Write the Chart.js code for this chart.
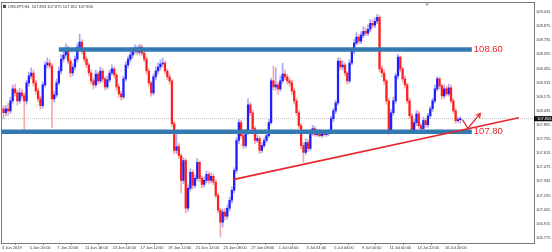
<!DOCTYPE html>
<html><head><meta charset="utf-8">
<script src="https://cdn.jsdelivr.net/npm/chart.js@4.4.1/dist/chart.umd.min.js"></script>
<style>html,body{margin:0;padding:0;background:#fff;overflow:hidden}canvas{display:block}</style>
</head><body>
<canvas id="c" width="552" height="252"></canvas>
<script>
const symbolTitle = 'USDJPY,H4';
const lastQuote = ['107.853', '107.875', '107.812', '107.856'];

const opens = [
108.055,108.016,108.055,108.035,108.134,108.252,108.213,108.134,108.213,108.183,
108.134,108.312,108.381,108.410,108.312,108.233,108.154,108.085,108.292,108.489,
108.509,108.479,108.154,108.193,108.312,108.430,108.548,108.588,108.647,108.528,
108.410,108.469,108.548,108.666,108.716,108.627,108.548,108.489,108.410,108.331,
108.292,108.400,108.331,108.430,108.351,108.272,108.341,108.410,108.450,108.390,
108.272,108.203,108.173,108.351,108.489,108.548,108.588,108.627,108.657,108.617,
108.666,108.607,108.548,108.430,108.312,108.213,108.371,108.430,108.469,108.499,
108.509,108.430,108.371,108.331,107.907,107.641,107.680,107.592,107.345,107.542,
107.069,107.266,107.424,107.296,107.365,107.523,107.365,107.306,107.345,107.404,
107.345,107.385,107.326,107.197,107.049,106.931,107.030,106.990,107.069,107.148,
107.247,107.444,107.740,107.917,107.789,107.690,107.818,108.095,108.016,107.858,
107.740,107.759,107.641,107.690,107.740,107.789,107.917,108.331,108.272,108.292,
108.252,108.331,108.400,108.371,108.331,108.312,108.233,108.134,108.016,107.888,
107.690,107.621,107.720,107.661,107.818,107.858,107.799,107.828,107.789,107.818,
107.799,107.809,107.828,107.957,108.035,108.114,108.528,108.469,108.489,108.410,
108.331,108.509,108.627,108.706,108.765,108.726,108.785,108.824,108.804,108.844,
108.903,108.883,108.923,108.962,108.450,108.410,108.331,108.134,107.838,108.016,
108.134,108.381,108.568,108.450,108.351,108.292,108.134,107.986,107.838,107.917,
108.006,107.888,107.858,107.937,107.897,107.986,108.055,108.134,108.252,108.351,
108.282,108.183,108.252,108.203,108.262,108.134,108.035,107.937,107.947];

const highs = [
108.085,108.090,108.110,108.170,108.290,108.300,108.240,108.260,108.250,108.210,
108.340,108.420,108.460,108.440,108.340,108.260,108.180,108.320,108.520,108.560,
108.540,108.500,108.230,108.350,108.470,108.590,108.630,108.700,108.680,108.550,
108.500,108.580,108.700,108.795,108.740,108.650,108.570,108.510,108.440,108.360,
108.440,108.420,108.470,108.450,108.370,108.380,108.440,108.490,108.470,108.410,
108.300,108.230,108.380,108.520,108.580,108.620,108.660,108.690,108.680,108.696,
108.690,108.630,108.570,108.450,108.330,108.400,108.470,108.510,108.540,108.560,
108.530,108.450,108.400,108.350,107.930,107.838,107.710,107.610,107.570,107.560,
107.300,107.460,107.450,107.400,107.560,107.540,107.390,107.380,107.440,107.430,
107.420,107.410,107.350,107.220,107.070,107.060,107.070,107.100,107.180,107.280,
107.470,107.770,107.950,107.940,107.810,107.850,108.154,108.120,108.040,107.880,
107.800,107.780,107.720,107.770,107.820,107.950,108.360,108.480,108.460,108.320,
108.380,108.509,108.440,108.400,108.360,108.340,108.260,108.160,108.040,107.910,
107.720,107.760,107.750,107.850,107.890,107.880,107.850,107.850,107.840,107.840,
107.830,107.850,107.980,108.060,108.140,108.560,108.560,108.530,108.510,108.430,
108.540,108.660,108.740,108.810,108.790,108.820,108.870,108.860,108.890,108.940,
108.940,108.960,108.992,108.980,108.480,108.440,108.350,108.160,108.050,108.170,
108.410,108.597,108.580,108.470,108.380,108.310,108.160,108.010,107.950,108.040,
108.030,107.910,107.970,107.960,108.010,108.080,108.160,108.290,108.371,108.370,
108.300,108.290,108.280,108.300,108.290,108.160,108.060,107.970,107.975];

const lows = [
107.960,107.985,107.990,108.010,108.110,108.180,108.090,108.110,108.150,107.838,
108.100,108.280,108.350,108.280,108.200,108.120,108.050,108.060,108.270,108.460,
108.450,107.868,108.120,108.170,108.290,108.400,108.520,108.560,108.500,108.370,
108.380,108.440,108.520,108.640,108.600,108.520,108.460,108.380,108.300,108.250,
108.270,108.300,108.310,108.320,108.240,108.250,108.320,108.390,108.360,108.240,
108.170,108.140,108.150,108.330,108.460,108.520,108.560,108.600,108.590,108.590,
108.580,108.520,108.400,108.280,108.180,108.190,108.340,108.400,108.440,108.470,
108.400,108.340,108.300,107.878,107.610,107.610,107.560,107.217,107.310,107.020,
107.040,107.240,107.260,107.270,107.340,107.330,107.270,107.280,107.320,107.310,
107.320,107.300,107.170,107.020,106.783,106.880,106.950,106.960,107.040,107.120,
107.220,107.420,107.710,107.760,107.660,107.670,107.800,107.990,107.830,107.710,
107.720,107.610,107.620,107.670,107.720,107.770,107.900,108.240,108.240,108.200,
108.230,108.310,108.340,108.300,108.280,108.200,108.100,107.990,107.860,107.660,
107.523,107.600,107.630,107.640,107.790,107.780,107.780,107.770,107.770,107.780,
107.780,107.790,107.810,107.930,108.010,108.090,108.440,108.440,108.380,108.300,
108.310,108.490,108.600,108.690,108.700,108.700,108.760,108.780,108.780,108.820,
108.860,108.860,108.900,108.420,108.370,108.300,108.100,107.799,107.820,107.990,
108.110,108.350,108.420,108.320,108.260,108.110,107.960,107.810,107.810,107.890,
107.860,107.810,107.830,107.870,107.870,107.960,108.030,108.110,108.230,108.250,
108.150,108.160,108.180,108.180,108.110,108.010,107.910,107.920,107.912];

const closes = [
108.016,108.055,108.035,108.134,108.252,108.213,108.134,108.213,108.183,108.134,
108.312,108.381,108.410,108.312,108.233,108.154,108.085,108.292,108.489,108.509,
108.479,108.154,108.193,108.312,108.430,108.548,108.588,108.647,108.528,108.410,
108.469,108.548,108.666,108.716,108.627,108.548,108.489,108.410,108.331,108.292,
108.400,108.331,108.430,108.351,108.272,108.341,108.410,108.450,108.390,108.272,
108.203,108.173,108.351,108.489,108.548,108.588,108.627,108.657,108.617,108.666,
108.607,108.548,108.430,108.312,108.213,108.371,108.430,108.469,108.499,108.509,
108.430,108.371,108.331,107.907,107.641,107.680,107.592,107.345,107.542,107.069,
107.266,107.424,107.296,107.365,107.523,107.365,107.306,107.345,107.404,107.345,
107.385,107.326,107.197,107.049,106.931,107.030,106.990,107.069,107.148,107.247,
107.444,107.740,107.917,107.789,107.690,107.818,108.095,108.016,107.858,107.740,
107.759,107.641,107.690,107.740,107.789,107.917,108.331,108.272,108.292,108.252,
108.331,108.400,108.371,108.331,108.312,108.233,108.134,108.016,107.888,107.690,
107.621,107.720,107.661,107.818,107.858,107.799,107.828,107.789,107.818,107.799,
107.809,107.828,107.957,108.035,108.114,108.528,108.469,108.489,108.410,108.331,
108.509,108.627,108.706,108.765,108.726,108.785,108.824,108.804,108.844,108.903,
108.883,108.923,108.962,108.450,108.410,108.331,108.134,107.838,108.016,108.134,
108.381,108.568,108.450,108.351,108.292,108.134,107.986,107.838,107.917,108.006,
107.888,107.858,107.937,107.897,107.986,108.055,108.134,108.252,108.351,108.282,
108.183,108.252,108.203,108.262,108.134,108.035,107.937,107.947,107.957];

const timeLabels = ['3 Jun 2019','5 Jun 20:00','7 Jun 20:00','11 Jun 16:00','13 Jun 16:00',
  '17 Jun 12:00','19 Jun 12:00','21 Jun 12:00','25 Jun 08:00','27 Jun 08:00','1 Jul 04:00',
  '3 Jul 04:00','5 Jul 04:00','9 Jul 00:00','11 Jul 00:00','14 Jul 22:00','16 Jul 20:00'];
const barsPerTimeLabel = 12;
const priceTicks = [109.015,108.875,108.735,108.595,108.455,108.315,108.175,108.035,107.895,
  107.755,107.615,107.475,107.335,107.195,107.055,106.915,106.775];

// horizontal levels (price, first bar, last bar, label)
const levelPrices = [108.642, 107.828];
const levelStarts = [24, -0.65];
const levelEnds = [203, 203];
const levelLabels = ['108.60', '107.80'];
// rising trend line
const trendBars = [99.9, 223.4];
const trendPrices = [107.355, 107.966];
// arrow
const arrowBars = [198.9, 201.3, 206.7];
const arrowPrices = [107.947, 107.861, 108.009];
const shiftMarkerBar = 183.6;

const X_MIN = -0.65, X_MAX = 229.95, Y_MIN = 106.724, Y_MAX = 109.100;
const BULL = '#1e1eff', BEAR = '#ff1e1e', BULL_WICK = '#a9a9f6', BEAR_WICK = '#f6a9a9';
const LEVEL_BLUE = '#3479b2', RED_LINE = '#e8262b';
const FONT = '"Liberation Sans", Arial, sans-serif';

const bull = i => closes[i] >= opens[i];
const lastClose = closes[closes.length - 1];

const overlay = {
  id: 'overlay',
  afterDraw(chart) {
    const {ctx, chartArea: a, scales: {x, y}} = chart;
    ctx.save();
    // frame
    ctx.strokeStyle = '#7a7a7a'; ctx.lineWidth = 1;
    ctx.strokeRect(Math.round(a.left) - 0.5, Math.round(a.top) - 0.5,
      Math.round(a.right - a.left) + 1, Math.round(a.bottom - a.top) + 1);
    // title
    ctx.fillStyle = '#444';
    ctx.fillRect(a.left + 1, a.top + 1.5, 3, 3);
    ctx.font = '4px ' + FONT; ctx.textBaseline = 'middle'; ctx.textAlign = 'left';
    ctx.fillStyle = '#333';
    ctx.fillText(symbolTitle + '  ' + lastQuote.join(' '), a.left + 6, a.top + 3);
    // level labels
    ctx.font = '9.5px ' + FONT; ctx.fillStyle = RED_LINE;
    levelLabels.forEach((t, k) => {
      ctx.fillText(t, x.getPixelForValue(levelEnds[k]) + 2, y.getPixelForValue(levelPrices[k]));
    });
    // arrow head
    const n = arrowBars.length;
    const tx = x.getPixelForValue(arrowBars[n - 1]), ty = y.getPixelForValue(arrowPrices[n - 1]);
    const px = x.getPixelForValue(arrowBars[n - 2]), py = y.getPixelForValue(arrowPrices[n - 2]);
    const ang = Math.atan2(ty - py, tx - px);
    ctx.strokeStyle = RED_LINE; ctx.lineWidth = 1.3;
    ctx.beginPath();
    ctx.moveTo(tx - 5 * Math.cos(ang - 0.5), ty - 5 * Math.sin(ang - 0.5));
    ctx.lineTo(tx, ty);
    ctx.lineTo(tx - 5 * Math.cos(ang + 0.5), ty - 5 * Math.sin(ang + 0.5));
    ctx.stroke();
    // chart shift marker
    const sx = x.getPixelForValue(shiftMarkerBar);
    ctx.fillStyle = '#999';
    ctx.beginPath(); ctx.moveTo(sx - 2, a.top); ctx.lineTo(sx + 2, a.top); ctx.lineTo(sx, a.top + 2.5); ctx.fill();
    // bid box
    const yb = y.getPixelForValue(lastClose);
    ctx.fillStyle = '#111';
    ctx.fillRect(a.right, yb - 2.6, chart.width - a.right, 5.2);
    ctx.fillStyle = '#fff'; ctx.font = '4px ' + FONT;
    ctx.fillText(lastQuote[3], a.right + 3, yb);
    ctx.restore();
  }
};

new Chart(document.getElementById('c'), {
  type: 'bar',
  data: {
    datasets: [
      { type: 'line', label: 'bid', order: 6,
        data: [{x: X_MIN, y: lastClose}, {x: X_MAX, y: lastClose}],
        borderColor: '#c4c4c4', borderWidth: 1, borderDash: [1, 1], pointRadius: 0 },
      { label: 'wicks', order: 5, grouped: false, barThickness: 1, borderWidth: 0,
        data: lows.map((l, i) => ({x: i, y: [l, highs[i]]})),
        backgroundColor: c => bull(c.dataIndex) ? BULL_WICK : BEAR_WICK },
      { label: 'bodies', order: 4, grouped: false, barThickness: 1.6, borderWidth: 0, minBarLength: 1,
        data: opens.map((o, i) => ({x: i, y: [o, closes[i]]})),
        backgroundColor: c => bull(c.dataIndex) ? BULL : BEAR },
      ...levelPrices.map((p, k) => ({
        type: 'line', label: 'level ' + levelLabels[k], order: 3,
        data: [{x: levelStarts[k], y: p}, {x: levelEnds[k], y: p}],
        borderColor: LEVEL_BLUE, borderWidth: 4.5, pointRadius: 0, borderCapStyle: 'butt' })),
      { type: 'line', label: 'trend', order: 2,
        data: trendBars.map((b, i) => ({x: b, y: trendPrices[i]})),
        borderColor: RED_LINE, borderWidth: 1.6, pointRadius: 0 },
      { type: 'line', label: 'arrow', order: 1,
        data: arrowBars.map((b, i) => ({x: b, y: arrowPrices[i]})),
        borderColor: RED_LINE, borderWidth: 1.3, pointRadius: 0 }
    ]
  },
  options: {
    responsive: false, animation: false, devicePixelRatio: 1,
    layout: { padding: { left: 2, top: 2, right: 0, bottom: 0 } },
    plugins: { legend: { display: false }, tooltip: { enabled: false }, title: { display: false } },
    scales: {
      x: { type: 'linear', min: X_MIN, max: X_MAX, offset: false,
        afterBuildTicks: s => { s.ticks = timeLabels.map((t, k) => ({value: X_MIN + k * barsPerTimeLabel})); },
        afterFit: s => { s.height = 9; },
        ticks: { autoSkip: false, maxRotation: 0, minRotation: 0, align: 'start', padding: 0,
          font: { size: 4, family: FONT }, color: '#333',
          callback: (v, i) => timeLabels[i] },
        grid: { drawOnChartArea: false, tickLength: 2, color: '#888' },
        border: { display: false } },
      y: { type: 'linear', position: 'right', min: Y_MIN, max: Y_MAX,
        afterBuildTicks: s => { s.ticks = priceTicks.map(v => ({value: v})); },
        afterFit: s => { s.width = 18; },
        ticks: { autoSkip: false, padding: 1, font: { size: 4, family: FONT }, color: '#333',
          callback: v => Number(v).toFixed(3) },
        grid: { drawOnChartArea: false, tickLength: 1, color: '#888' },
        border: { display: false } }
    }
  },
  plugins: [overlay]
});
</script>
</body></html>
